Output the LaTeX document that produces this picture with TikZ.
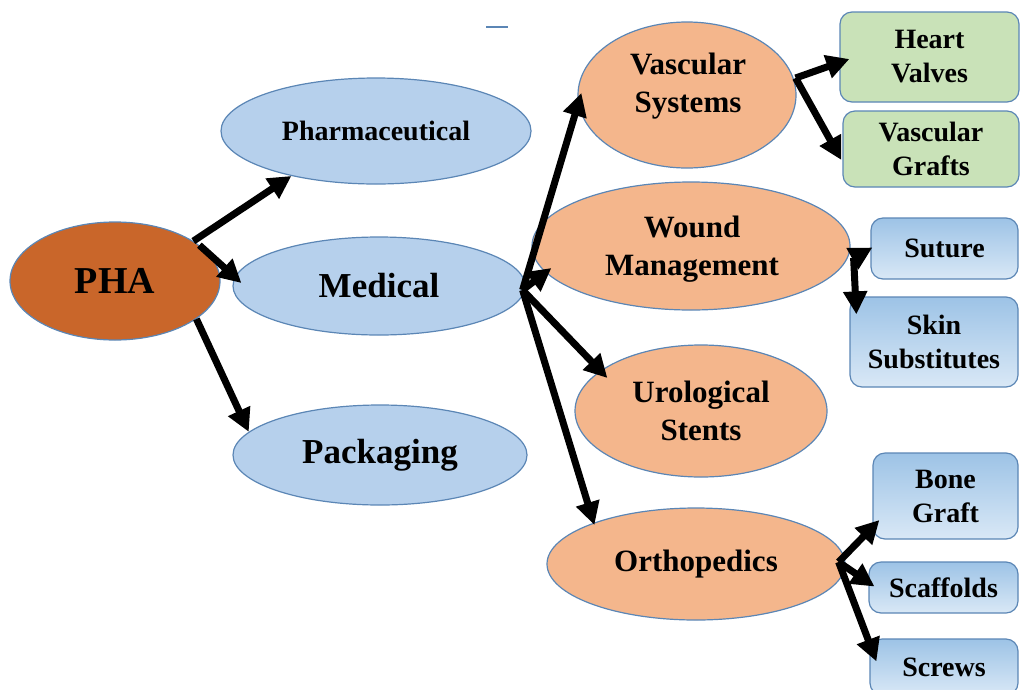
\documentclass[tikz,border=0pt]{standalone}
\usepackage{fontspec}
\setmainfont{Liberation Serif}
\usetikzlibrary{arrows.meta,shapes.geometric,calc}
\definecolor{bd}{HTML}{5B86B5}
\definecolor{phaC}{HTML}{C9662A}
\definecolor{blueE}{HTML}{B6D0EC}
\definecolor{orE}{HTML}{F4B68C}
\definecolor{grB}{HTML}{C9E2B8}
\definecolor{bxTop}{HTML}{9DC3E6}
\definecolor{bxBot}{HTML}{D9E8F6}
\begin{document}
\begin{tikzpicture}[x=1pt,y=-1pt,
  ell/.style={ellipse, draw=bd, line width=1.2pt, inner sep=0pt, align=center, font=\bfseries},
  phaE/.style={ell, fill=phaC, minimum width=210pt, minimum height=118pt, font=\bfseries\fontsize{38}{44}\selectfont},
  bigE/.style={ell, fill=blueE, font=\bfseries\fontsize{35}{42}\selectfont},
  orgE/.style={ell, fill=orE, font=\bfseries\fontsize{31}{38}\selectfont},
  txt/.style={align=center, inner sep=0pt, font=\bfseries\fontsize{31}{38}\selectfont},
  box/.style={rectangle, rounded corners=12pt, draw=bd, line width=1.2pt, inner sep=0pt, align=center, font=\bfseries\fontsize{28}{34}\selectfont},
  gbox/.style={box, fill=grB},
  bbox/.style={box, top color=bxTop, bottom color=bxBot},
  arr/.style={line width=7pt, -{Triangle[length=23pt,width=23pt]}}
]
\useasboundingbox (0,0) rectangle (1020,689);
% ellipses
\node[phaE] (pha) at (115,281) {PHA};
\node[bigE, minimum width=310pt, minimum height=106pt, font=\bfseries\fontsize{28}{34}\selectfont] (pharm) at (376,131) {Pharmaceutical};
\node[bigE, minimum width=292pt, minimum height=98pt] (med) at (379,286) {Medical};
\node[bigE, minimum width=294pt, minimum height=100pt] (pack) at (380,455) {Packaging};
\node[orgE, minimum width=218pt, minimum height=146pt] (vasc) at (687,95) {};
\node[txt] (vasct) at (688,86) {Vascular\\Systems};
\node[orgE, minimum width=318pt, minimum height=128pt] (wound) at (691,246) {};
\node[txt] (woundt) at (692,249) {Wound\\Management};
\node[orgE, minimum width=252pt, minimum height=132pt] (uro) at (701,411) {Urological\\Stents};
\node[orgE, minimum width=298pt, minimum height=112pt] (ortho) at (696,564) {Orthopedics};
% boxes
\node[gbox, minimum width=179pt, minimum height=90pt] (hv) at (929.5,57) {Heart\\Valves};
\node[gbox, minimum width=176pt, minimum height=76pt] (vg) at (931,149) {Vascular\\Grafts};
\node[bbox, minimum width=147pt, minimum height=61pt] (sut) at (944.5,248.5) {Suture};
\node[bbox, minimum width=168pt, minimum height=90pt] (skin) at (934,342) {Skin\\Substitutes};
\node[bbox, minimum width=145pt, minimum height=86pt] (bone) at (945.5,496) {Bone\\Graft};
\node[bbox, minimum width=149pt, minimum height=51pt] (scaf) at (943.5,587.5) {Scaffolds};
\node[bbox, minimum width=148pt, minimum height=56pt] (scr) at (944,667) {Screws};
% start points
\coordinate (m0) at ($(med.east)+(-3,4)$);
\coordinate (v0) at ($(vasc.east)+(-1,-17)$);
\coordinate (w0) at ($(wound.east)+(3,12)$);
\coordinate (o0) at ($(ortho.east)+(-7,-2)$);
% arrows
\draw[arr] (pha.27) -- (pharm.208);
\draw[arr] (pha.23) -- ($(med.west)+(9,-3)$);
\draw[arr] (pha.335) -- (pack.170);
\draw[arr] (m0) -- ($(vasc.west)+(4,-2)$);
\draw[arr] (m0) -- ($(wound.west)+(20,22)$);
\draw[arr] (m0) -- ($(uro.west)+(33,-33)$);
\draw[arr] (m0) -- ($(ortho.west)+(48,-39)$);
\draw[arr] (v0) -- ($(hv.west)+(10,2)$);
\draw[arr] (v0) -- ($(vg.west)+(-1,11)$);
\draw[arr] (w0) -- ($(sut.west)+(2,-1)$);
\draw[arr] (w0) -- ($(skin.north west)+(7,18)$);
\draw[arr] (o0) -- ($(bone.west)+(7,24)$);
\draw[arr] (o0) -- ($(scaf.west)+(6,-1)$);
\draw[arr] (o0) -- ($(scr.north west)+(7,23)$);
% stray mark
\draw[bd, line width=1.5pt] (486,27) -- (508,27);
\end{tikzpicture}
\end{document}
